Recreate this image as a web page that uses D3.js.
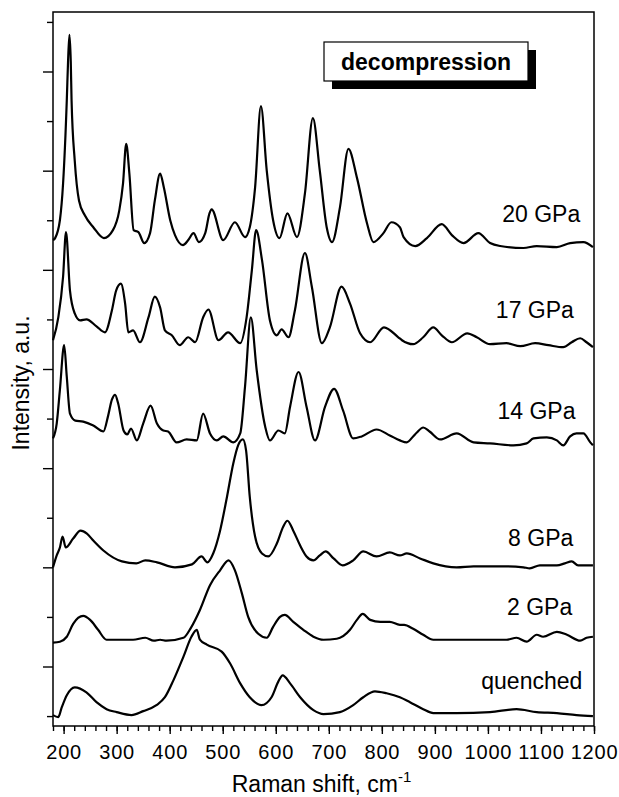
<!DOCTYPE html>
<html><head><meta charset="utf-8">
<script src="https://cdn.jsdelivr.net/npm/d3@7"></script>
<style>
body{margin:0;background:#fff}
svg{display:block}
text{font-family:Arial,"Liberation Sans",Helvetica,sans-serif;fill:#000}
</style>
</head><body>
<svg id="chart" width="619" height="797"></svg>
<script>
// ---- data: [Raman shift (cm-1), intensity (a.u., offset spectra)] ----
const gpa20 = [[180,480],[184,482],[193,500],[199,537],[206,621],[208.5,662],[211,687],[213.5,660],[215,621],[221,560],[229,520],[240,505],[256,493],[276,482],[293,490],[305,510],[312,537],[318,577],[324,547],[332,490],[341,488],[352,477],[363,487],[372,520],[382,547],[389,533],[401,500],[410,485],[425,475],[435,480],[445,487],[455,478],[467,487],[475,507],[479,511],[501,480],[523,498],[542,483],[551,493],[561,533],[572,615],[583,550],[595,500],[607,482],[622,507],[640,483],[655,527],[670,603],[683,550],[696,493],[706,478],[721,513],[737,572],[753,543],[772,497],[784,478],[803,487],[818,498],[834,493],[841,483],[863,474],[885,482],[913,496],[932,485],[954,477],[982,487],[1004,477],[1023,474],[1067,472],[1092,474],[1130,473],[1155,477],[1180,478],[1198,473]];
const gpa17 = [[180,379],[190,402],[199,443],[204.5,488],[212,429],[221,406],[231,399],[243,400],[262,393],[278,387],[291,409],[299,429],[308,436],[316,416],[322,387],[331,389],[344,377],[360,402],[372,423],[382,412],[391,389],[404,384],[419,374],[435,382],[448,377],[463,402],[473,410],[492,379],[510,387],[533,376],[545,402],[555,450],[563,490],[574,460],[589,399],[602,384],[611,390],[624,382],[636,409],[655,467],[668,433],[687,376],[702,392],[724,433],[740,416],[759,386],[778,377],[804,392],[831,382],[838,379],[859,375],[878,382],[897,392],[913,384],[932,377],[961,386],[979,382],[1004,375],[1035,376],[1061,373],[1089,376],[1114,374],[1142,372],[1158,377],[1174,381],[1186,377],[1198,372]];
const gpa14 = [[180,280],[187,295],[193,329],[201,374],[206,342],[212,305],[222,298],[237,297],[256,293],[275,287],[284,303],[291,319],[297,324],[303,315],[313,288],[320,284],[327,290],[338,278],[350,295],[364,313],[376,295],[388,288],[397,287],[413,276],[432,279],[451,278],[463,305],[476,285],[489,278],[501,282],[520,276],[533,285],[542,332],[553,402],[564,349],[580,292],[589,278],[605,288],[617,285],[627,312],[643,347],[658,312],[674,278],[693,312],[710,330],[727,308],[746,280],[762,282],[790,289],[815,283],[834,278],[847,276],[859,282],[866,286],[878,291],[890,287],[910,279],[941,285],[973,276],[1004,275],[1048,273],[1073,275],[1086,280],[1111,281],[1130,278],[1142,273],[1155,282],[1167,285],[1180,285],[1193,276],[1198,273]];
const gpa8 = [[180,150],[187,162],[193,170],[198,181],[204,170],[218,179],[232,187],[244,184],[256,177],[275,167],[310,156],[337,154],[354,157],[376,155],[410,150],[442,153],[460,161],[471,155],[482,164],[495,187],[508,221],[520,255],[529,273],[538,279],[544,268],[551,221],[561,181],[574,164],[586,161],[602,174],[614,191],[622,197],[633,187],[646,172],[658,161],[671,157],[683,162],[694,166],[709,159],[726,152],[746,157],[765,166],[790,161],[815,165],[834,162],[847,164],[872,159],[897,154],[941,150],[973,151],[1035,151],[1067,150],[1079,149],[1098,152],[1130,152],[1145,154],[1158,156],[1170,152],[1198,152]];
const gpa2 = [[180,74],[193,75],[206,80],[218,93],[237,101],[250,97],[265,87],[281,77],[300,77],[331,77],[354,79],[370,76],[382,77],[394,76],[426,79],[440,89],[457,107],[476,132],[495,147],[511,157],[523,147],[536,124],[548,100],[567,83],[583,79],[595,90],[608,100],[617,102],[633,95],[652,87],[671,80],[690,77],[715,78],[740,87],[753,97],[764,103],[778,97],[797,95],[815,95],[834,92],[842,92],[859,88],[878,82],[897,77],[941,77],[1004,77],[1035,77],[1054,79],[1073,75],[1092,82],[1104,80],[1130,85],[1149,82],[1174,76],[1186,79],[1198,80]];
const quenched = [[180,1],[190,-1],[196,8],[206,21],[221,29],[243,24],[262,14],[281,7],[300,4],[328,1],[350,5],[375,11],[391,19],[407,36],[426,60],[441,80],[451,87],[457,77],[470,72],[498,65],[514,53],[533,33],[551,19],[573,11],[592,19],[605,35],[613,41],[627,33],[646,19],[671,6],[690,2],[721,4],[746,11],[765,19],[787,25],[809,23],[834,19],[853,14],[878,7],[897,3],[941,3],[1004,4],[1054,7],[1092,4],[1130,3],[1167,1],[1198,0]];

const seriesData = [gpa20, gpa17, gpa14, gpa8, gpa2, quenched];
const seriesLabels = ["20 GPa", "17 GPa", "14 GPa", "8 GPa", "2 GPa", "quenched"];
// label anchor (right end) in data units
const labelAnchors = [[1174,498],[1162,401],[1165,300],[1161,172],[1159,102],[1178,27]];

const xTickLabels = [200,300,400,500,600,700,800,900,1000,1100,1200];
const xMinorTicks = d3.range(180, 1201, 20);
const yTicks = d3.range(0, 701, 50);
const legendText = "decompression";
const xTitle = "Raman shift, cm";
const yTitle = "Intensity, a.u.";

// ---- layout ----
const svg = d3.select("#chart");
const L = 53, R = 594, T = 12, B = 726;
const x = d3.scaleLinear().domain([180, 1200]).range([L, R]);
const y = d3.scaleLinear().domain([-10, 710]).range([B, T]);

// x axis: minor then major ticks
svg.append("g").attr("transform", `translate(0,${B})`)
  .call(d3.axisBottom(x).tickValues(xMinorTicks).tickSize(5).tickSizeOuter(0).tickFormat(""));
const gxMaj = svg.append("g").attr("transform", `translate(0,${B})`)
  .call(d3.axisBottom(x).tickValues(xTickLabels).tickSize(8).tickSizeOuter(0).tickFormat(d3.format("d")));
gxMaj.selectAll("text").attr("y", 33).attr("dy", null)
  .style("font-size", "20px").style("letter-spacing", "0.8px");

// y axis: long ticks at odd multiples of 50, short at even
const yLong = yTicks.filter(v => (v / 50) % 2 === 1);
const yShort = yTicks.filter(v => (v / 50) % 2 === 0);
svg.append("g").attr("transform", `translate(${L},0)`)
  .call(d3.axisLeft(y).tickValues(yShort).tickSize(6).tickSizeOuter(0).tickFormat(""));
svg.append("g").attr("transform", `translate(${L},0)`)
  .call(d3.axisLeft(y).tickValues(yLong).tickSize(10).tickSizeOuter(0).tickFormat(""));

svg.selectAll(".domain").remove();
svg.selectAll(".tick line").attr("stroke", "#000").attr("stroke-width", 1.4);

// frame
svg.append("rect").attr("x", L).attr("y", T).attr("width", R - L).attr("height", B - T)
  .attr("fill", "none").attr("stroke", "#000").attr("stroke-width", 1.5);

// spectra
const line = d3.line().x(d => x(d[0])).y(d => y(d[1])).curve(d3.curveMonotoneX);
svg.append("g").selectAll("path").data(seriesData).join("path")
  .attr("d", line).attr("fill", "none").attr("stroke", "#000")
  .attr("stroke-width", 2.2).attr("stroke-linejoin", "round");

// series labels
svg.append("g").selectAll("text").data(seriesLabels).join("text")
  .attr("x", (d, i) => x(labelAnchors[i][0]))
  .attr("y", (d, i) => y(labelAnchors[i][1]))
  .attr("text-anchor", "end").style("font-size", "23px").text(d => d);

// legend box with shadow
const lg = svg.append("g");
lg.append("rect").attr("x", 332).attr("y", 50).attr("width", 204).attr("height", 39).attr("fill", "#000");
lg.append("rect").attr("x", 324).attr("y", 42).attr("width", 204).attr("height", 39)
  .attr("fill", "#fff").attr("stroke", "#000").attr("stroke-width", 1.2);
lg.append("text").attr("x", 426).attr("y", 69.5).attr("text-anchor", "middle")
  .style("font-size", "23px").style("font-weight", "bold").text(legendText);

// axis titles
const xt = svg.append("text").attr("x", (L + R) / 2 - 2).attr("y", 792)
  .attr("text-anchor", "middle").style("font-size", "23px");
xt.append("tspan").text(xTitle);
xt.append("tspan").attr("dy", -10).style("font-size", "15px").text("-1");

svg.append("text").attr("transform", `translate(29,383) rotate(-90)`)
  .attr("text-anchor", "middle").style("font-size", "23px").text(yTitle);
</script>
</body></html>
